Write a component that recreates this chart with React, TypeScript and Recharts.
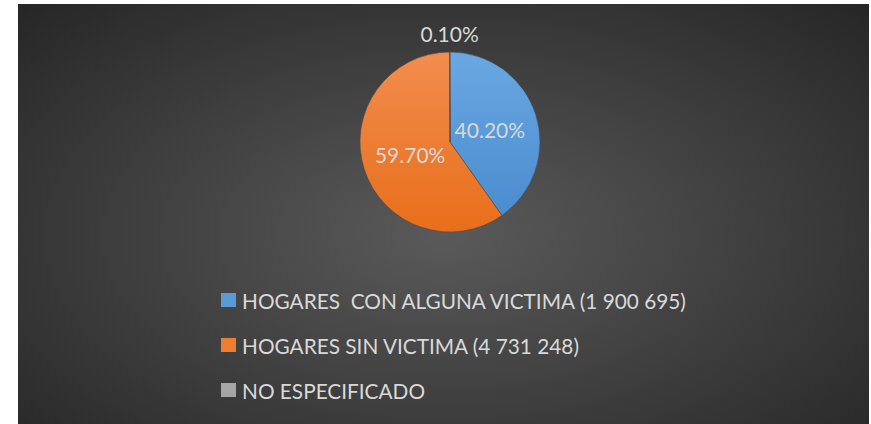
import { Pie, PieChart, Cell } from "recharts";

const categories = [
  "HOGARES  CON ALGUNA VICTIMA (1 900 695)",
  "HOGARES SIN VICTIMA (4 731 248)",
  "NO ESPECIFICADO",
];
const shares = [40.2, 59.7, 0.1];
const colors = ["#5b9bd5", "#ed7d31", "#a5a5a5"];
const gradients = [
  ["#6aa8e2", "#4a8ccf"],
  ["#f28d4e", "#e86e1a"],
  ["#b5b5b5", "#999999"],
];

const data = categories.map((name, i) => ({ name, value: shares[i] }));

const FONT = "Lato, 'Open Sans', sans-serif";
const TEXT = "#d9d9d9";
const RAD = Math.PI / 180;

function SliceLabel(props: any) {
  const { cx, cy, midAngle, outerRadius, percent, value } = props;
  const outside = percent < 0.01;
  const r = outside ? outerRadius + 19 : outerRadius * 0.465;
  const x = cx + r * Math.cos(-midAngle * RAD);
  const y = cy + r * Math.sin(-midAngle * RAD);
  return (
    <text
      x={x}
      y={y}
      fill={TEXT}
      fontSize={21}
      fontFamily={FONT}
      textAnchor="middle"
      dominantBaseline="central"
    >
      {`${value.toFixed(2)}%`}
    </text>
  );
}

function ChartLegend() {
  return (
    <div
      style={{
        position: "absolute",
        left: 203,
        top: 285,
        display: "flex",
        flexDirection: "column",
        gap: 23,
      }}
    >
      {data.map((item, i) => (
        <div key={item.name} style={{ display: "flex", alignItems: "center", height: 22 }}>
          <span
            style={{
              width: 15,
              height: 14,
              marginRight: 6,
              backgroundColor: colors[i],
              display: "inline-block",
            }}
          />
          <span
            style={{
              color: TEXT,
              fontFamily: FONT,
              fontSize: 20.8,
              whiteSpace: "pre",
            }}
          >
            {item.name}
          </span>
        </div>
      ))}
    </div>
  );
}

export default function App() {
  return (
    <div
      style={{
        position: "absolute",
        left: 18,
        top: 4,
        width: 851,
        height: 420,
        background:
          "radial-gradient(ellipse at 50% 55%, #5a5a5a 0%, #404040 50%, #262626 100%)",
      }}
    >
      <PieChart width={851} height={420} margin={{ top: 0, right: 0, bottom: 0, left: 0 }}>
        <defs>
          {gradients.map((g, i) => (
            <linearGradient key={i} id={`slice${i}`} x1="0" y1="0" x2="0" y2="1">
              <stop offset="0%" stopColor={g[0]} />
              <stop offset="100%" stopColor={g[1]} />
            </linearGradient>
          ))}
        </defs>
        <Pie
          data={data}
          dataKey="value"
          nameKey="name"
          cx={432}
          cy={138}
          outerRadius={90}
          startAngle={90}
          endAngle={-270}
          stroke="#4a4a4a"
          strokeWidth={0.6}
          label={SliceLabel}
          labelLine={false}
          isAnimationActive={false}
        >
          {data.map((d, i) => (
            <Cell key={d.name} fill={`url(#slice${i})`} />
          ))}
        </Pie>
      </PieChart>
      <ChartLegend />
    </div>
  );
}
